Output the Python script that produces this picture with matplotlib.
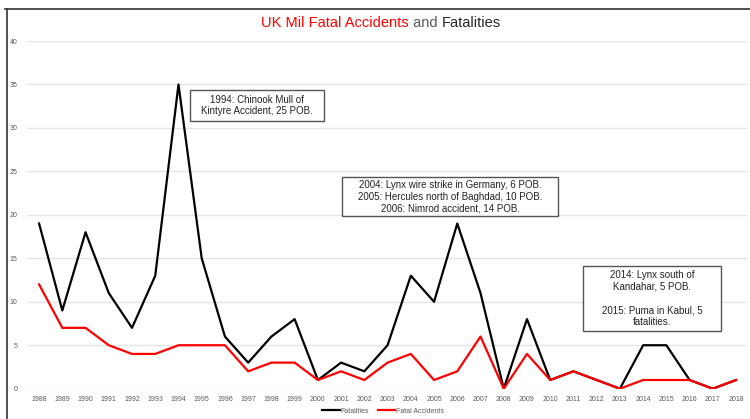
import matplotlib
matplotlib.use('Agg')
import matplotlib.pyplot as plt
from matplotlib.lines import Line2D
from matplotlib.patches import Rectangle

plt.rcParams['font.family'] = ['Liberation Sans', 'DejaVu Sans']

years = [str(y) for y in range(1988, 2019)]
fatalities = [19, 9, 18, 11, 7, 13, 35, 15, 6, 3, 6, 8, 1, 3, 2, 5,
              13, 10, 19, 11, 0, 8, 1, 2, 1, 0, 5, 5, 1, 0, 1]
accidents = [12, 7, 7, 5, 4, 4, 5, 5, 5, 2, 3, 3, 1, 2, 1, 3,
             4, 1, 2, 6, 0, 4, 1, 2, 1, 0, 1, 1, 1, 0, 1]

notes = ["1994: Chinook Mull of\nKintyre Accident, 25 POB.",
         "2004: Lynx wire strike in Germany, 6 POB.\n2005: Hercules north of Baghdad, 10 POB.\n2006: Nimrod accident, 14 POB.",
         "2014: Lynx south of\nKandahar, 5 POB.\n\n2015: Puma in Kabul, 5\nfatalities."]
# box centre (x index, y value) and box size in pixels
note_pos = [(9.38, 32.6), (17.69, 22.06), (26.39, 10.38)]
note_size = [(134, 31), (216, 39), (138, 65)]

W, H = 750, 419
fig = plt.figure(figsize=(W / 100, H / 100), dpi=100)
ax = fig.add_axes([27 / W, 1 - 388.7 / H, 720 / W, 347.7 / H])

x = list(range(len(years)))
ax.plot(x, fatalities, color='black', lw=1.6, label='Fatalities', zorder=3)
ax.plot(x, accidents, color='#ff0000', lw=1.6, label='Fatal Accidents', zorder=4)

ax.set_xlim(-0.52, 30.47)
ax.set_ylim(0, 40)
ax.set_yticks(range(0, 41, 5))
ax.set_xticks(x)
ax.set_xticklabels(years)
ax.grid(axis='y', color='#e4e4e4', lw=1)
ax.set_axisbelow(True)
for s in ax.spines.values():
    s.set_visible(False)
ax.tick_params(axis='x', length=0, labelsize=5, colors='#595959', pad=5)
ax.tick_params(axis='y', length=0, labelsize=5, colors='#595959', pad=7)

# pixel -> data scale
sx = 30.99 / 720
sy = 40 / 347.7
for txt, (tx, ty), (bw, bh) in zip(notes, note_pos, note_size):
    ax.add_patch(Rectangle((tx - bw * sx / 2, ty - bh * sy / 2), bw * sx, bh * sy,
                           fc='white', ec='#555555', lw=1, zorder=5))
    ax.text(tx, ty, txt, ha='center', va='center', fontsize=7, color='#222222',
            linespacing=1.2, zorder=6)

# title in three colours
parts = [("UK Mil Fatal Accidents", '#ff0000'), (" and ", '#595959'), ("Fatalities", '#262626')]
fig.canvas.draw()
r = fig.canvas.get_renderer()
texts = []
for p, c in parts:
    texts.append(fig.text(0, 1 - 23 / H, p, color=c, fontsize=10.5, va='center', ha='left'))
widths = [t.get_window_extent(r).width for t in texts]
x0 = 381 - sum(widths) / 2
for t, w in zip(texts, widths):
    t.set_x(x0 / W)
    x0 += w

fig.legend(loc='center', bbox_to_anchor=(383 / W, 1 - 411 / H), ncol=2, frameon=False,
           fontsize=5, labelcolor='#595959', handlelength=2.5, handletextpad=0.1,
           columnspacing=1.3)

# outer frame
fig.add_artist(Line2D([5 / W, 1], [1 - 9 / H, 1 - 9 / H], color='#333333', lw=1.2))
fig.add_artist(Line2D([7 / W, 7 / W], [0, 1 - 9 / H], color='#333333', lw=1.2))

fig.savefig('out.png', dpi=100, facecolor='white')
